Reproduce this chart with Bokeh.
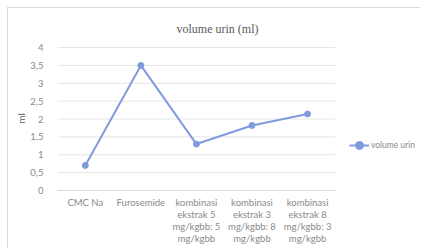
from bokeh.plotting import figure
from bokeh.models import Range1d, Legend, LegendItem, FixedTicker
from bokeh.embed import file_html
from bokeh.resources import INLINE

categories = ["CMC Na", "Furosemide",
              "kombinasi\nekstrak 5\nmg/kgbb: 5\nmg/kgbb",
              "kombinasi\nekstrak 3\nmg/kgbb: 8\nmg/kgbb",
              "kombinasi\nekstrak 8\nmg/kgbb: 3\nmg/kgbb"]
values = [0.7, 3.5, 1.3, 1.82, 2.14]
y_ticks = [0, 0.5, 1, 1.5, 2, 2.5, 3, 3.5, 4]
y_tick_labels = ["0", "0,5", "1", "1,5", "2", "2,5", "3", "3,5", "4"]

xpos = list(range(len(categories)))
line_color = "#809bdc"
txt = "#8a8a8a"

p = figure(width=413, height=241, x_range=Range1d(-0.5, 6.05), y_range=Range1d(0, 4.03),
           output_backend="svg", toolbar_location=None,
           min_border_left=49, min_border_right=0, min_border_top=37, min_border_bottom=59,
           title="volume urin (ml)")
p.styles = {"margin-left": "7px", "margin-top": "7px",
            "border-left": "1px solid #d9d9d9", "border-top": "1px solid #d9d9d9"}
p.outline_line_color = None
p.title.align = "left"
p.title.text_font = "Liberation Serif"
p.title.text_font_style = "normal"
p.title.text_font_size = "12px"
p.title.text_color = "#595959"
p.title.offset = 119
p.title.standoff = 22

# horizontal gridlines spanning only the category area
p.segment(x0=-0.5, x1=len(categories) - 0.5, y0=y_ticks, y1=y_ticks, line_color="#e6e6e6", line_width=1)

r = p.line(xpos, values, line_color=line_color, line_width=2)
s = p.scatter(xpos, values, size=6, color=line_color)

p.yaxis.ticker = FixedTicker(ticks=y_ticks)
p.yaxis.major_label_overrides = {t: l for t, l in zip(y_ticks, y_tick_labels)}
p.xaxis.ticker = FixedTicker(ticks=xpos)
p.xaxis.major_label_overrides = {i: c for i, c in zip(xpos, categories)}
p.xaxis.bounds = (-0.5, len(categories) - 0.5)
for ax in (p.xaxis, p.yaxis):
    ax.major_label_text_font = "Lato"
    ax.major_label_text_font_size = "9.5px"
    ax.major_label_text_color = txt
    ax.major_tick_line_color = None
    ax.minor_tick_line_color = None
p.yaxis.axis_line_color = None
p.xaxis.axis_line_color = "#d9d9d9"
p.xaxis.major_label_text_line_height = 1.12
p.yaxis.major_label_standoff = 8
p.xaxis.major_label_standoff = 0
p.yaxis.axis_label = "ml"
p.yaxis.axis_label_text_font = "Lato"
p.yaxis.axis_label_text_font_size = "10px"
p.yaxis.axis_label_text_font_style = "normal"
p.yaxis.axis_label_text_color = "#595959"
p.yaxis.axis_label_standoff = 0
p.xgrid.grid_line_color = None
p.ygrid.grid_line_color = None

legend = Legend(items=[LegendItem(label="volume urin", renderers=[r, s])],
                location=(292, 35), border_line_color=None, background_fill_alpha=0,
                label_text_font="Lato", label_text_font_size="8.5px", label_text_color=txt,
                glyph_width=20, label_standoff=2, padding=2, margin=0)
p.add_layout(legend)

open("out.html", "w").write(file_html(p, INLINE))
